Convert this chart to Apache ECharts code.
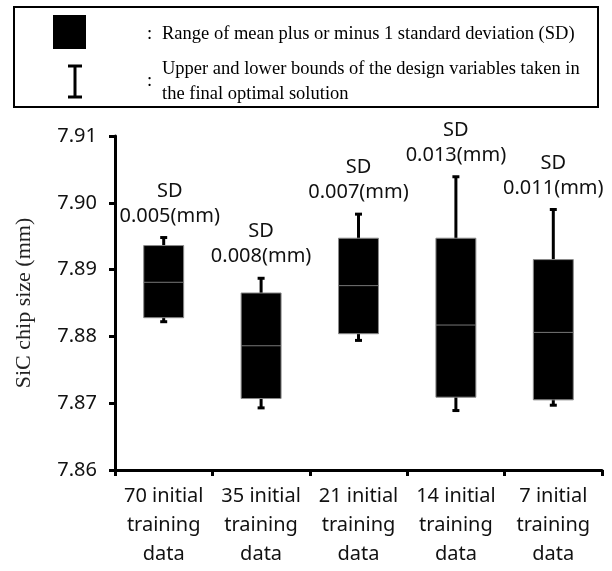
<!DOCTYPE html>
<html>
<head>
<meta charset="utf-8">
<script src="https://cdn.jsdelivr.net/npm/echarts@6/dist/echarts.min.js"></script>
<style>
  html, body { margin: 0; padding: 0; background: #fff; }
  #chart { width: 612px; height: 571px; }
</style>
</head>
<body>
<div id="chart"></div>
<script>
var categories = ["70 initial\ntraining\ndata", "35 initial\ntraining\ndata", "21 initial\ntraining\ndata", "14 initial\ntraining\ndata", "7 initial\ntraining\ndata"];
var whiskerMin = [7.8822, 7.8693, 7.8794, 7.8689, 7.8697];
var boxLow = [7.8828, 7.8707, 7.8804, 7.8709, 7.8705];
var median = [7.8881, 7.8786, 7.8876, 7.8817, 7.8806];
var boxHigh = [7.8936, 7.8865, 7.8947, 7.8947, 7.8915];
var whiskerMax = [7.8948, 7.8887, 7.8983, 7.9039, 7.8990];
var sdValues = ["0.005", "0.008", "0.007", "0.013", "0.011"];

var chart = echarts.init(document.getElementById("chart"));

var seriesData = categories.map(function (c, i) {
    return [i, whiskerMin[i], boxLow[i], median[i], boxHigh[i], whiskerMax[i]];
});

function renderBox(params, api) {
    var i = api.value(0);
    var wLo = api.coord([i, api.value(1)]);
    var bLo = api.coord([i, api.value(2)]);
    var med = api.coord([i, api.value(3)]);
    var bHi = api.coord([i, api.value(4)]);
    var wHi = api.coord([i, api.value(5)]);
    var x = wLo[0];
    var half = api.size([1, 0])[0] * 0.205;
    var cap = 3.5;
    // first label sits a bit right so it clears the y axis
    var labelX = i === 0 ? x + 6 : x;
    return {
        type: "group",
        children: [
            {type: "line", shape: {x1: x, y1: wHi[1], x2: x, y2: wLo[1]}, style: {stroke: "#000", lineWidth: 3}},
            {type: "line", shape: {x1: x - cap, y1: wHi[1], x2: x + cap, y2: wHi[1]}, style: {stroke: "#000", lineWidth: 3}},
            {type: "line", shape: {x1: x - cap, y1: wLo[1], x2: x + cap, y2: wLo[1]}, style: {stroke: "#000", lineWidth: 3}},
            {type: "rect", shape: {x: x - half, y: bHi[1], width: half * 2, height: bLo[1] - bHi[1]},
                style: {fill: "#000", stroke: "#8a8a8a", lineWidth: 1}},
            {type: "line", shape: {x1: x - half, y1: med[1], x2: x + half, y2: med[1]}, style: {stroke: "#777", lineWidth: 1}},
            {type: "text", x: labelX, y: wHi[1] - 9,
                style: {text: "SD\n" + sdValues[i] + "(mm)", align: "center", verticalAlign: "bottom",
                    fontFamily: "Noto Sans", fontSize: 20, lineHeight: 25, fill: "#111"}}
        ]
    };
}

var option = {
    animation: false,
    backgroundColor: "#fff",
    grid: {left: 115, right: 10, top: 136, bottom: 101},
    graphic: [
        {type: "rect", shape: {x: 14, y: 7, width: 584, height: 100}, style: {fill: "#fff", stroke: "#000", lineWidth: 2}},
        {type: "rect", shape: {x: 53, y: 15, width: 33, height: 34}, style: {fill: "#000"}},
        {type: "line", shape: {x1: 75, y1: 66, x2: 75, y2: 97}, style: {stroke: "#000", lineWidth: 3}},
        {type: "line", shape: {x1: 68, y1: 66, x2: 82, y2: 66}, style: {stroke: "#000", lineWidth: 3}},
        {type: "line", shape: {x1: 68, y1: 97, x2: 82, y2: 97}, style: {stroke: "#000", lineWidth: 3}},
        {type: "text", left: 147, top: 25, style: {text: ":", fontFamily: "Liberation Serif", fontSize: 18.5, fill: "#000"}},
        {type: "text", left: 162, top: 25, style: {text: "Range of mean plus or minus 1 standard deviation (SD)", fontFamily: "Liberation Serif", fontSize: 18.5, fill: "#000"}},
        {type: "text", left: 147, top: 72, style: {text: ":", fontFamily: "Liberation Serif", fontSize: 18.5, fill: "#000"}},
        {type: "text", left: 162, top: 57, style: {text: "Upper and lower bounds of the design variables taken in\nthe final optimal solution", fontFamily: "Liberation Serif", fontSize: 18.5, lineHeight: 25, fill: "#000"}}
    ],
    xAxis: {
        type: "category",
        data: categories,
        axisLine: {lineStyle: {color: "#000", width: 3}},
        axisTick: {show: true, length: 6, lineStyle: {color: "#000", width: 3}},
        axisLabel: {color: "#111", fontFamily: "Noto Sans", fontSize: 20, lineHeight: 29, margin: 12, interval: 0}
    },
    yAxis: {
        type: "value",
        min: 7.86,
        max: 7.91,
        interval: 0.01,
        name: "SiC chip size (mm)",
        nameLocation: "middle",
        nameGap: 80,
        nameTextStyle: {color: "#222", fontFamily: "Liberation Serif", fontSize: 22},
        axisLine: {show: true, lineStyle: {color: "#000", width: 3}},
        axisTick: {show: true, length: 6, lineStyle: {color: "#000", width: 3}},
        splitLine: {show: false},
        axisLabel: {color: "#111", fontFamily: "Noto Sans", fontSize: 20, margin: 18,
            formatter: function (v) { return v.toFixed(2); }}
    },
    series: [{
        type: "custom",
        renderItem: renderBox,
        data: seriesData,
        encode: {x: 0, y: [1, 5]}
    }]
};
chart.setOption(option);
</script>
</body>
</html>
